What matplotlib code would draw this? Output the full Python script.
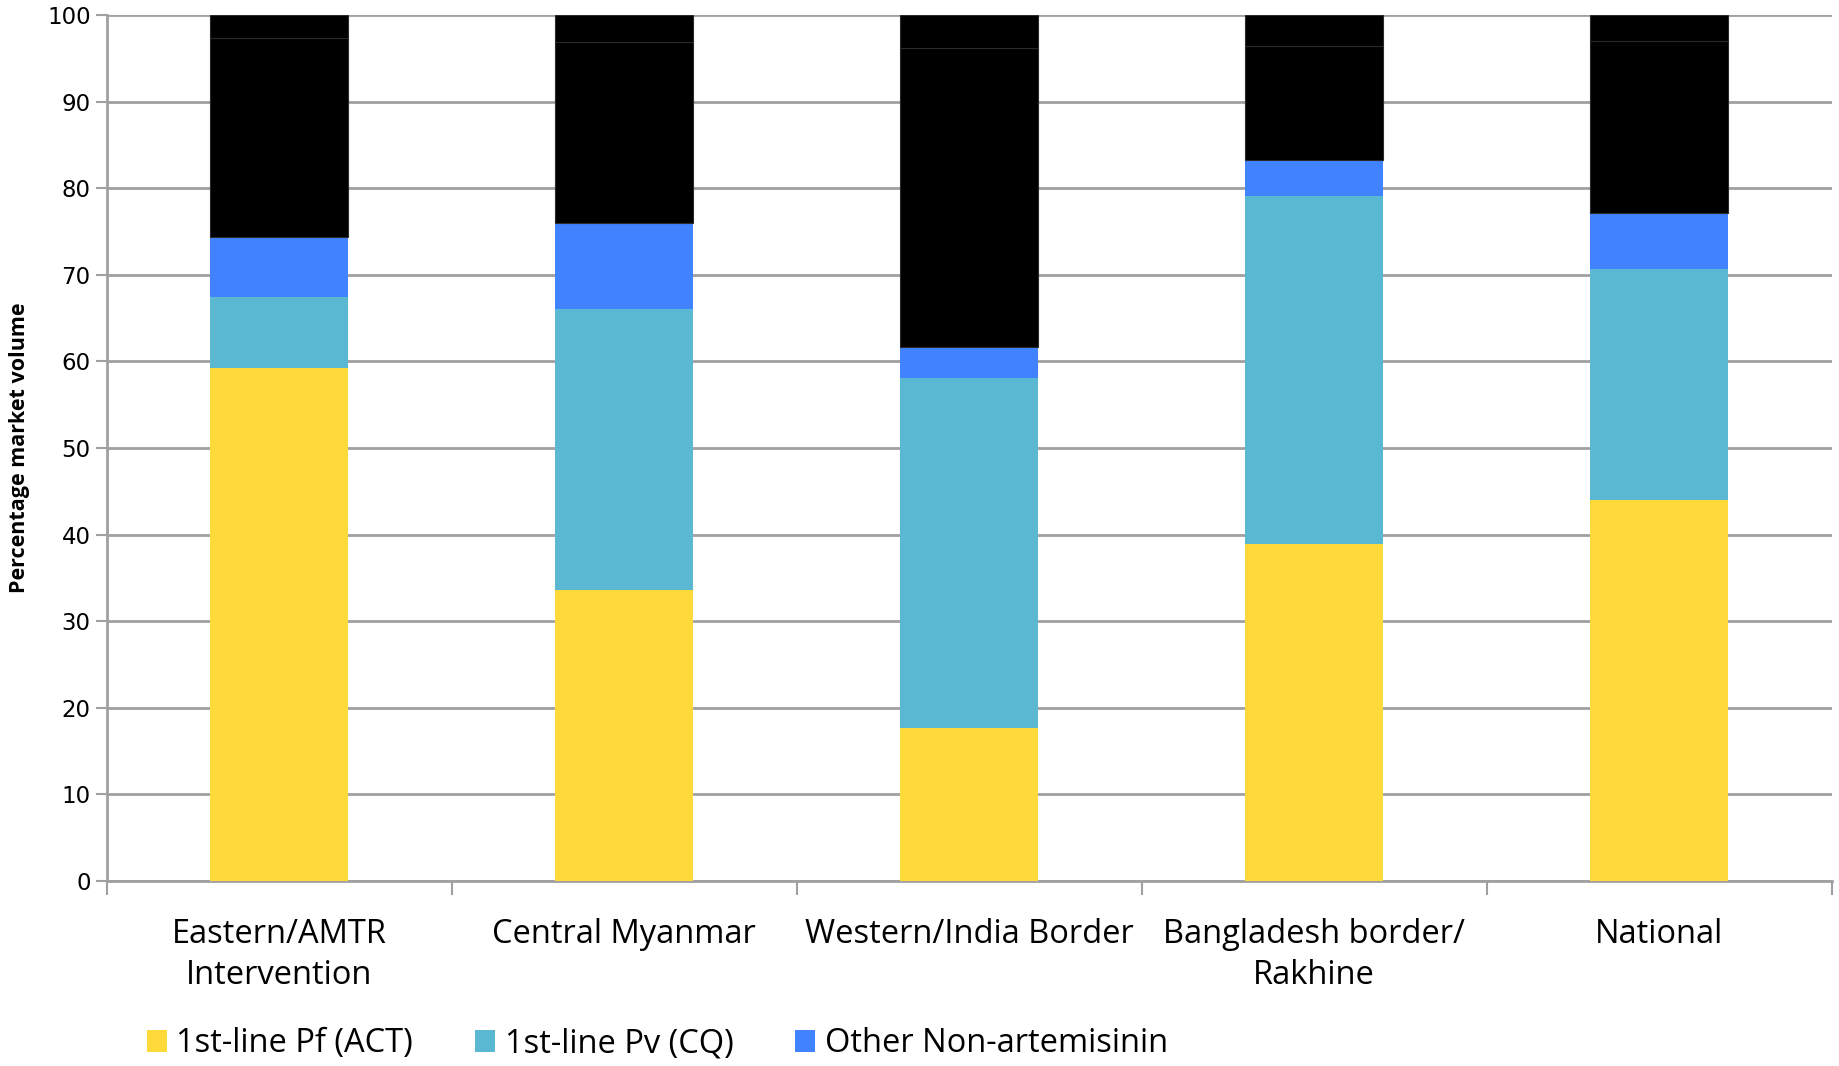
import matplotlib.pyplot as plt
import numpy as np

regions = ['Eastern/AMTR\nIntervention', 'Central Myanmar', 'Western/India Border',
           'Bangladesh border/\nRakhine', 'National']

# stacked shares (percent of market volume), bottom to top
pf_act = [59.2, 33.6, 17.6, 38.9, 44.0]
pv_cq = [8.3, 32.5, 40.5, 40.2, 26.7]
other_non_art = [6.9, 9.9, 3.6, 4.2, 6.5]
black_lower = [23.0, 20.9, 34.5, 13.1, 19.8]
black_upper = [2.6, 3.1, 3.8, 3.6, 3.0]

series = [
    ('1st-line Pf (ACT)', pf_act, '#FDD93A'),
    ('1st-line Pv (CQ)', pv_cq, '#5BB8D2'),
    ('Other Non-artemisinin', other_non_art, '#4183FE'),
    ('_nolegend_', black_lower, '#000000'),
    ('_nolegend_', black_upper, '#000000'),
]

plt.rcParams['font.family'] = ['Open Sans', 'DejaVu Sans']

fig = plt.figure(figsize=(18.39, 10.66), dpi=100)
ax = fig.add_axes([0.058, 0.1737, 0.938, 0.812])

x = np.arange(len(regions))
bottom = np.zeros(len(regions))
for name, vals, col in series:
    vals = np.array(vals)
    edge = '#2a2a2a' if col == '#000000' else 'none'
    ax.bar(x, vals, width=0.4, bottom=bottom, color=col, label=name,
           edgecolor=edge, linewidth=0.8, zorder=3)
    bottom += vals

ax.set_xlim(-0.5, len(regions) - 0.5)
ax.set_ylim(0, 100)
ax.set_yticks(np.arange(0, 101, 10))
ax.yaxis.grid(True, color='#A0A0A0', linewidth=2, zorder=0)
ax.set_axisbelow(True)

ax.set_xticks(x)
ax.set_xticklabels(regions, fontsize=23.5, linespacing=1.3)
ax.set_xticks(np.arange(-0.5, len(regions), 1), minor=True)
ax.tick_params(axis='x', which='major', length=0, pad=27)
ax.tick_params(axis='x', which='minor', length=10, width=1.5, color='#A0A0A0')
ax.tick_params(axis='y', length=8, width=1.5, color='#A0A0A0', labelsize=16.5,
               labelfontfamily='DejaVu Sans')

for s in ['top', 'right']:
    ax.spines[s].set_visible(False)
for s in ['left', 'bottom']:
    ax.spines[s].set_color('#A0A0A0')
    ax.spines[s].set_linewidth(2)

ax.set_ylabel('Percentage market volume', fontsize=15.5, fontweight='bold', labelpad=12)

fig.legend(loc='lower left', bbox_to_anchor=(0.064, -0.022), ncol=3, frameon=False,
           fontsize=23.5, handlelength=0.6, handleheight=0.65, handletextpad=0.3,
           columnspacing=1.9)

fig.savefig('out.png', dpi=100)
